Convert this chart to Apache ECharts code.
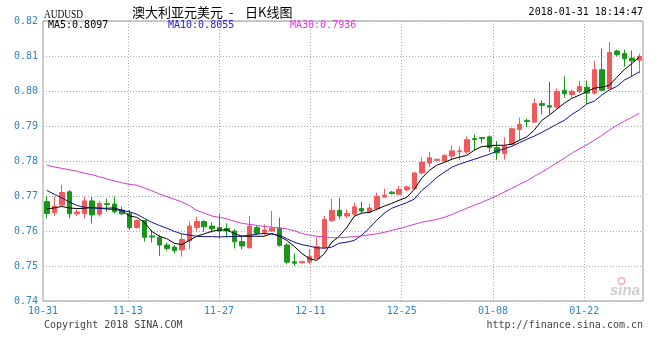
<!DOCTYPE html>
<html>
<head>
<meta charset="utf-8">
<script src="https://cdn.jsdelivr.net/npm/echarts@6/dist/echarts.min.js"></script>
<style>html,body{margin:0;padding:0;background:#fff}#c{width:666px;height:350px}</style>
</head>
<body>
<div id="c"></div>
<script>
// Trading days (Mon–Sat bars)
const categories = [
 '10-31','11-01','11-02','11-03','11-04','11-06','11-07','11-08','11-09','11-10',
 '11-11','11-13','11-14','11-15','11-16','11-17','11-18','11-20','11-21','11-22',
 '11-23','11-24','11-25','11-27','11-28','11-29','11-30','12-01','12-02','12-04',
 '12-05','12-06','12-07','12-08','12-09','12-11','12-12','12-13','12-14','12-15',
 '12-16','12-18','12-19','12-20','12-21','12-22','12-23','12-25','12-26','12-27',
 '12-28','12-29','12-30','01-01','01-02','01-03','01-04','01-05','01-06','01-08',
 '01-09','01-10','01-11','01-12','01-13','01-15','01-16','01-17','01-18','01-19',
 '01-20','01-22','01-23','01-24','01-25','01-26','01-27','01-29','01-30','01-31'];

const openV = [.7684,.7652,.7674,.7712,.7649,.7650,.7686,.7648,.7678,.7677,
 .7660,.7650,.7610,.7630,.7586,.7582,.7560,.7554,.7546,.7572,
 .7610,.7627,.7614,.7610,.7607,.7600,.7570,.7552,.7610,.7595,
 .7600,.7608,.7560,.7512,.7509,.7511,.7521,.7552,.7630,.7659,
 .7643,.7648,.7664,.7654,.7664,.7697,.7711,.7705,.7718,.7721,
 .7766,.7794,.7802,.7800,.7814,.7826,.7826,.7864,.7867,.7869,
 .7838,.7821,.7848,.7890,.7916,.7911,.7964,.7958,.7954,.8002,
 .7990,.7999,.8011,.7994,.8061,.8007,.8114,.8107,.8094,.8088];

const closeV = [.7650,.7671,.7710,.7649,.7654,.7686,.7646,.7679,.7676,.7655,
 .7649,.7610,.7630,.7582,.7583,.7560,.7550,.7544,.7576,.7614,
 .7627,.7612,.7606,.7600,.7600,.7569,.7557,.7614,.7593,.7603,
 .7608,.7559,.7511,.7508,.7513,.7527,.7555,.7633,.7659,.7643,
 .7650,.7669,.7657,.7666,.7699,.7702,.7707,.7719,.7726,.7766,
 .7797,.7809,.7805,.7816,.7829,.7829,.7861,.7861,.7864,.7838,
 .7823,.7842,.7892,.7905,.7913,.7964,.7959,.7954,.7999,.7992,
 .7999,.8013,.7994,.8061,.8002,.8110,.8104,.8092,.8086,.8099];

const lowV = [.7636,.7643,.7670,.7636,.7643,.7636,.7622,.7641,.7655,.7650,
 .7646,.7603,.7607,.7570,.7567,.7529,.7544,.7536,.7527,.7548,
 .7598,.7598,.7595,.7578,.7581,.7550,.7548,.7550,.7588,.7588,
 .7598,.7555,.7505,.7500,.7508,.7505,.7519,.7550,.7626,.7633,
 .7638,.7643,.7650,.7650,.7659,.7695,.7704,.7702,.7714,.7718,
 .7762,.7783,.7801,.7797,.7802,.7802,.7819,.7830,.7851,.7826,
 .7804,.7804,.7845,.7859,.7897,.7911,.7933,.7933,.7950,.7981,
 .7981,.7994,.7964,.7990,.8000,.8005,.8099,.8070,.8042,.8050];

const highV = [.7700,.7698,.7731,.7717,.7662,.7698,.7698,.7686,.7693,.7698,
 .7670,.7660,.7633,.7631,.7603,.7589,.7567,.7560,.7593,.7627,
 .7641,.7631,.7624,.7648,.7622,.7605,.7588,.7643,.7616,.7619,
 .7657,.7638,.7565,.7536,.7514,.7548,.7581,.7643,.7692,.7695,
 .7662,.7681,.7683,.7678,.7709,.7721,.7714,.7728,.7730,.7769,
 .7810,.7826,.7806,.7819,.7845,.7842,.7870,.7876,.7867,.7873,
 .7857,.7867,.7895,.7924,.7921,.7978,.7973,.8026,.8007,.8042,
 .8004,.8029,.8030,.8086,.8121,.8140,.8118,.8118,.8116,.8107];

const ma5 = [.7663,.7666,.7670,.7666,.7664,.7665,.7667,.7665,.7665,.7666,
 .7659,.7643,.7639,.7625,.7599,.7585,.7578,.7565,.7561,.7573,
 .7585,.7592,.7599,.7603,.7603,.7593,.7585,.7585,.7585,.7585,
 .7593,.7585,.7573,.7556,.7536,.7521,.7516,.7535,.7568,.7585,
 .7610,.7642,.7651,.7653,.7662,.7671,.7679,.7688,.7696,.7719,
 .7751,.7773,.7788,.7796,.7805,.7811,.7816,.7831,.7841,.7843,
 .7845,.7845,.7848,.7859,.7869,.7888,.7916,.7931,.7948,.7965,
 .7979,.7988,.7998,.8008,.8011,.8016,.8039,.8061,.8078,.8097];

const ma10 = [.7716,.7705,.7695,.7683,.7673,.7668,.7666,.7665,.7663,.7661,
 .7659,.7655,.7648,.7636,.7625,.7616,.7608,.7599,.7592,.7588,
 .7585,.7584,.7584,.7583,.7584,.7584,.7585,.7588,.7591,.7593,
 .7591,.7588,.7578,.7568,.7561,.7557,.7552,.7551,.7554,.7565,
 .7568,.7573,.7588,.7608,.7631,.7651,.7665,.7673,.7681,.7691,
 .7716,.7733,.7753,.7768,.7782,.7791,.7798,.7805,.7812,.7819,
 .7828,.7835,.7842,.7852,.7862,.7871,.7882,.7893,.7905,.7916,
 .7933,.7946,.7963,.7971,.7988,.8003,.8013,.8031,.8042,.8055];

const ma30 = [.7788,.7783,.7779,.7775,.7771,.7765,.7761,.7755,.7749,.7743,
 .7738,.7733,.7731,.7723,.7715,.7706,.7698,.7691,.7683,.7673,
 .7659,.7651,.7643,.7639,.7635,.7628,.7622,.7619,.7616,.7613,
 .7611,.7609,.7606,.7601,.7593,.7588,.7585,.7583,.7581,.7581,
 .7582,.7584,.7586,.7589,.7592,.7596,.7602,.7607,.7613,.7619,
 .7625,.7629,.7633,.7639,.7647,.7656,.7665,.7673,.7682,.7691,
 .7701,.7711,.7722,.7733,.7743,.7756,.7768,.7781,.7795,.7808,
 .7822,.7835,.7846,.7859,.7873,.7888,.7902,.7913,.7925,.7936];

// Date grid labels (calendar-day axis)
const tickLabels = ['10-31','11-13','11-27','12-11','12-25','01-08','01-22'];
const yMin = 0.74, yMax = 0.82, yStep = 0.01;

// calendar days 2017-10-31 .. 2018-01-31
const calendarDays = [];
for (let d = new Date(Date.UTC(2017, 9, 31)); d <= new Date(Date.UTC(2018, 0, 31)); d = new Date(d.getTime() + 86400000)) {
  const m = String(d.getUTCMonth() + 1).padStart(2, '0');
  const dd = String(d.getUTCDate()).padStart(2, '0');
  calendarDays.push(m + '-' + dd);
}

const kData = categories.map((c, i) => [openV[i], closeV[i], lowV[i], highV[i]]);

const MONO = '"DejaVu Sans Mono", monospace';
const AXIS_BLUE = '#2f86c3';
const UP = '#f05a5a', DOWN = '#1a961a';
const C5 = '#000000', C10 = '#12128f', C30 = '#d43ad4';

const chart = echarts.init(document.getElementById('c'), null, {renderer: 'canvas'});
const last = a => a[a.length - 1].toFixed(4);

function txt(x, y, text, font, fill, align) {
  return {type: 'text', x: x, y: y, silent: true, z: 10,
    style: {text: text, font: font, fill: fill,
      align: align || 'left', textAlign: align || 'left',
      verticalAlign: 'middle', textVerticalAlign: 'middle'}};
}

const option = {
  animation: false,
  backgroundColor: '#ffffff',
  grid: {left: 43, right: 23, top: 21, bottom: 49, show: true,
         borderColor: '#9a9a9a', borderWidth: 1, backgroundColor: 'transparent'},
  xAxis: [
    {type: 'category', data: categories, boundaryGap: true,
     axisLine: {show: false}, axisTick: {show: false}, axisLabel: {show: false},
     splitLine: {show: false}},
    {type: 'category', data: calendarDays, boundaryGap: false, position: 'bottom',
     axisLine: {show: false}, axisTick: {show: false},
     axisLabel: {interval: (i, v) => tickLabels.indexOf(v) >= 0,
       color: AXIS_BLUE, fontFamily: MONO, fontSize: 10, margin: 5},
     splitLine: {show: true, interval: (i, v) => tickLabels.indexOf(v) >= 0 && i > 0,
       lineStyle: {color: '#aaaaaa', type: [1, 2], width: 1}}}
  ],
  yAxis: {type: 'value', min: yMin, max: yMax, interval: yStep,
    axisLine: {show: false}, axisTick: {show: false},
    axisLabel: {formatter: v => v.toFixed(2), color: AXIS_BLUE, fontFamily: MONO, fontSize: 10, margin: 5},
    splitLine: {show: true, lineStyle: {color: '#aaaaaa', type: [1, 2], width: 1}}},
  series: [
    {type: 'candlestick', xAxisIndex: 0, data: kData, barWidth: 5,
     itemStyle: {color: UP, color0: DOWN, borderColor: UP, borderColor0: DOWN, borderWidth: 1}},
    {type: 'line', xAxisIndex: 0, data: ma5, symbol: 'none', smooth: false,
     lineStyle: {color: C5, width: 1}, itemStyle: {color: C5}},
    {type: 'line', xAxisIndex: 0, data: ma10, symbol: 'none', smooth: false,
     lineStyle: {color: C10, width: 1}, itemStyle: {color: C10}},
    {type: 'line', xAxisIndex: 0, data: ma30, symbol: 'none', smooth: false,
     lineStyle: {color: C30, width: 1}, itemStyle: {color: C30}}
  ],
  graphic: [
    {type: 'text', x: 44, y: 14.5, scaleX: 0.72, silent: true, z: 10,
     style: {text: 'AUDUSD', font: '13px "Liberation Serif"', fill: '#000',
       align: 'left', textAlign: 'left', verticalAlign: 'middle', textVerticalAlign: 'middle'}},
    txt(132, 12.5, '澳大利亚元美元', '13px "Noto Sans CJK SC"', '#000'),
    txt(229, 12.5, '-', '13px "Noto Sans CJK SC"', '#000'),
    txt(245, 12.5, '日K线图', '13px "Noto Sans CJK SC"', '#000'),
    txt(643, 12.5, '2018-01-31 18:14:47', '10px ' + MONO, '#000', 'right'),
    txt(48, 25.5, 'MA5:' + last(ma5), '10px ' + MONO, '#000'),
    txt(168, 25.5, 'MA10:' + last(ma10), '10px ' + MONO, '#2424cc'),
    txt(290, 25.5, 'MA30:' + last(ma30), '10px ' + MONO, '#e03ae0'),
    txt(44, 325.5, 'Copyright 2018 SINA.COM', '10px ' + MONO, '#444'),
    txt(643, 325.5, 'http://finance.sina.com.cn', '10px ' + MONO, '#444', 'right'),
    txt(610, 290.5, 'sina', 'italic bold 15px "Liberation Sans"', '#cdcdcd'),
    {type: 'circle', silent: true, z: 10, shape: {cx: 621.5, cy: 281, r: 3.2},
     style: {fill: 'none', stroke: '#f2b0b0', lineWidth: 1.4}}
  ]
};
chart.setOption(option);
</script>
</body>
</html>
